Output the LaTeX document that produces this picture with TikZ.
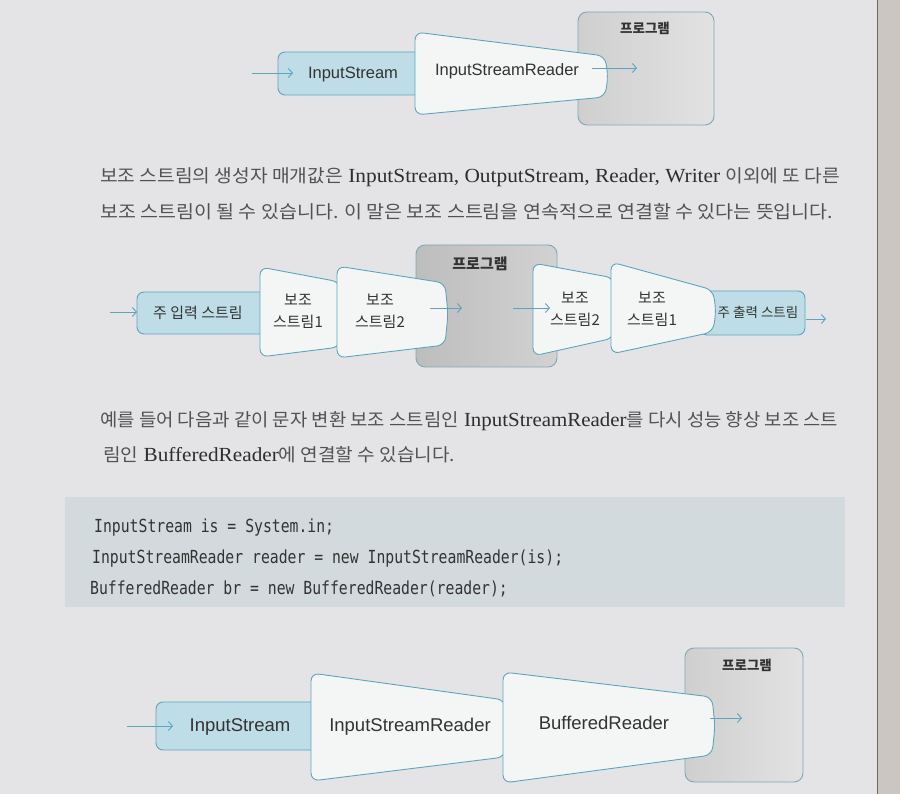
\documentclass[tikz,border=0pt]{standalone}
\usepackage{fontspec}
\usepackage{graphicx}
\setmainfont{Liberation Serif}
\newfontfamily\kr{Noto Sans CJK KR}
\newfontfamily\dsans{Liberation Sans}
\newfontfamily\codefnt[FakeStretch=0.82]{DejaVu Sans Mono}
\usetikzlibrary{arrows.meta}
\definecolor{pagebg}{HTML}{E4E4E6}
\definecolor{pagestrip}{HTML}{CBC6C1}
\definecolor{pageline}{HTML}{6E6862}
\definecolor{edgeblue}{HTML}{5BA6BF}
\definecolor{streamfill}{HTML}{BFDDE7}
\definecolor{funnelfill}{HTML}{F4F5F5}
\definecolor{progedge}{HTML}{7FA8B6}
\definecolor{progA}{HTML}{CFCFCF}
\definecolor{progB}{HTML}{E2E2E2}
\definecolor{progC}{HTML}{BDBDBD}
\definecolor{progD}{HTML}{D2D2D2}
\definecolor{codebg}{HTML}{D3DADE}
\definecolor{bodytext}{HTML}{2E2E2E}
\definecolor{krtext}{HTML}{525252}
\definecolor{diagtext}{HTML}{333333}
\newcommand\krt[1]{{\kr\color{krtext}\fontsize{18}{22}\selectfont #1}}
\newcommand\funnelshape[6]{%
  \path[funnel] (#1,#2) -- (#4,#5) -- ({#4+3},{(#5+#6)/2}) -- (#4,#6) -- (#1,#3) -- cycle;}
\tikzset{
  flowline/.style={draw=edgeblue, line width=0.9pt, -{Straight Barb[length=4pt,width=9pt]}},
  mainstream/.style={draw=edgeblue, fill=streamfill, line width=0.9pt, rounded corners=7pt},
  funnel/.style={draw=edgeblue, fill=funnelfill, line width=0.9pt, rounded corners=8pt},
  progbox/.style={draw=progedge, line width=0.9pt, rounded corners=9pt},
  lblsmall/.style={font=\dsans\fontsize{16.5}{18}\selectfont, text=diagtext, inner sep=0pt},
  lblbig/.style={font=\dsans\fontsize{18.5}{20}\selectfont, text=diagtext, inner sep=0pt},
  krlbl/.style={font=\kr\fontsize{15}{22}\selectfont, text=diagtext, inner sep=0pt, align=center},
  proglbl/.style={font=\kr\bfseries\fontsize{13.5}{16}\selectfont, text=diagtext, inner sep=0pt},
  bodyline/.style={font=\fontsize{20}{24}\selectfont, text=bodytext, inner sep=0pt, anchor=base west},
  codeline/.style={font=\codefnt\fontsize{18}{20}\selectfont, text=diagtext, inner sep=0pt, anchor=base west}
}
\begin{document}
\begin{tikzpicture}[x=1pt,y=-1pt]
\useasboundingbox (0,0) rectangle (900,794);
% page
\fill[pagebg] (0,0) rectangle (900,794);
\fill[pagestrip] (877,0) rectangle (900,794);
\draw[pageline, line width=1.6pt] (877.5,0) -- (877.5,794);

% ---------- top diagram ----------
\path[progbox, left color=progA, right color=progB] (578,12) rectangle (714,125);
\node[proglbl] (prog1) at (645,28) {프로그램};
\path[mainstream] (278,52) rectangle (430,95);
\node[lblsmall] (is1) at (353,74) {InputStream};
\funnelshape{415}{32}{115}{605}{56}{97}
\node[lblsmall] (isr1) at (507,71) {InputStreamReader};
\coordinate (in1a) at (252,73);
\coordinate (in1b) at (293,73);
\draw[flowline] (in1a) -- (in1b);
\coordinate (out1a) at (592,68);
\coordinate (out1b) at (637,68);
\draw[flowline] (out1a) -- (out1b);

% ---------- paragraph 1 ----------
\node[bodyline] (p1a) at (100,183) {\resizebox{740pt}{\height}{\krt{보조 스트림의 생성자 매개값은} InputStream, OutputStream, Reader, Writer \krt{이외에 또 다른}}};
\node[bodyline] (p1b) at (100,219) {\resizebox{733pt}{\height}{\krt{보조 스트림이 될 수 있습니다. 이 말은 보조 스트림을 연속적으로 연결할 수 있다는 뜻입니다.}}};

% ---------- middle diagram ----------
\path[progbox, left color=progC, right color=progD] (416,245) rectangle (557,367);
\node[proglbl, font=\kr\bfseries\fontsize{15}{17}\selectfont] (prog2) at (480,264) {프로그램};
\path[mainstream] (137,292) rectangle (270,334);
\node[krlbl] (mis) at (198,313) {주 입력 스트림};
\funnelshape{260}{267}{357}{340}{282}{347}
\node[krlbl] (aux1) at (298,311) {보조\\스트림1};
\funnelshape{337}{266}{358}{445}{283}{345}
\node[krlbl] (aux2) at (380,311) {보조\\스트림2};
\path[mainstream] (700,291) rectangle (805,335);
\node[krlbl, font=\kr\fontsize{13.5}{16}\selectfont] (mos) at (758,312) {주 출력 스트림};
\funnelshape{533}{263}{356}{614}{278}{338}
\node[krlbl] (aux3) at (575,309) {보조\\스트림2};
\funnelshape{611}{262}{354}{713}{290}{332}
\node[krlbl] (aux4) at (652,309) {보조\\스트림1};
\coordinate (in2a) at (110,312);
\coordinate (in2b) at (137,312);
\draw[flowline] (in2a) -- (in2b);
\coordinate (mid2a) at (430,308);
\coordinate (mid2b) at (462,308);
\draw[flowline] (mid2a) -- (mid2b);
\coordinate (mid2c) at (513,308);
\coordinate (mid2d) at (550,308);
\draw[flowline] (mid2c) -- (mid2d);
\coordinate (out2a) at (806,319);
\coordinate (out2b) at (826,319);
\draw[flowline] (out2a) -- (out2b);

% ---------- paragraph 2 ----------
\node[bodyline] (p2a) at (100,427) {\resizebox{738pt}{\height}{\krt{예를 들어 다음과 같이 문자 변환 보조 스트림인} InputStreamReader\krt{를 다시 성능 향상 보조 스트}}};
\node[bodyline] (p2b) at (103,461) {\resizebox{352pt}{\height}{\krt{림인} BufferedReader\krt{에 연결할 수 있습니다.}}};

% ---------- code block ----------
\fill[codebg] (65,497) rectangle (845,607);
\node[codeline] (c1) at (94,532) {InputStream is = System.in;};
\node[codeline] (c2) at (92,563) {InputStreamReader reader = new InputStreamReader(is);};
\node[codeline] (c3) at (90,594) {BufferedReader br = new BufferedReader(reader);};

% ---------- bottom diagram ----------
\path[progbox, left color=progA, right color=progB] (685,648) rectangle (803,782);
\node[proglbl] (prog3) at (747,665) {프로그램};
\path[mainstream] (156,702) rectangle (325,750);
\node[lblbig] (is3) at (240,727) {InputStream};
\funnelshape{311}{673}{781}{505}{700}{757}
\node[lblbig] (isr3) at (410,727) {InputStreamReader};
\funnelshape{503}{672}{783}{712}{697}{755}
\node[lblbig] (br3) at (604,723) {BufferedReader};
\coordinate (in3a) at (127,726);
\coordinate (in3b) at (173,726);
\draw[flowline] (in3a) -- (in3b);
\coordinate (out3a) at (710,718);
\coordinate (out3b) at (742,718);
\draw[flowline] (out3a) -- (out3b);
\end{tikzpicture}
\end{document}
